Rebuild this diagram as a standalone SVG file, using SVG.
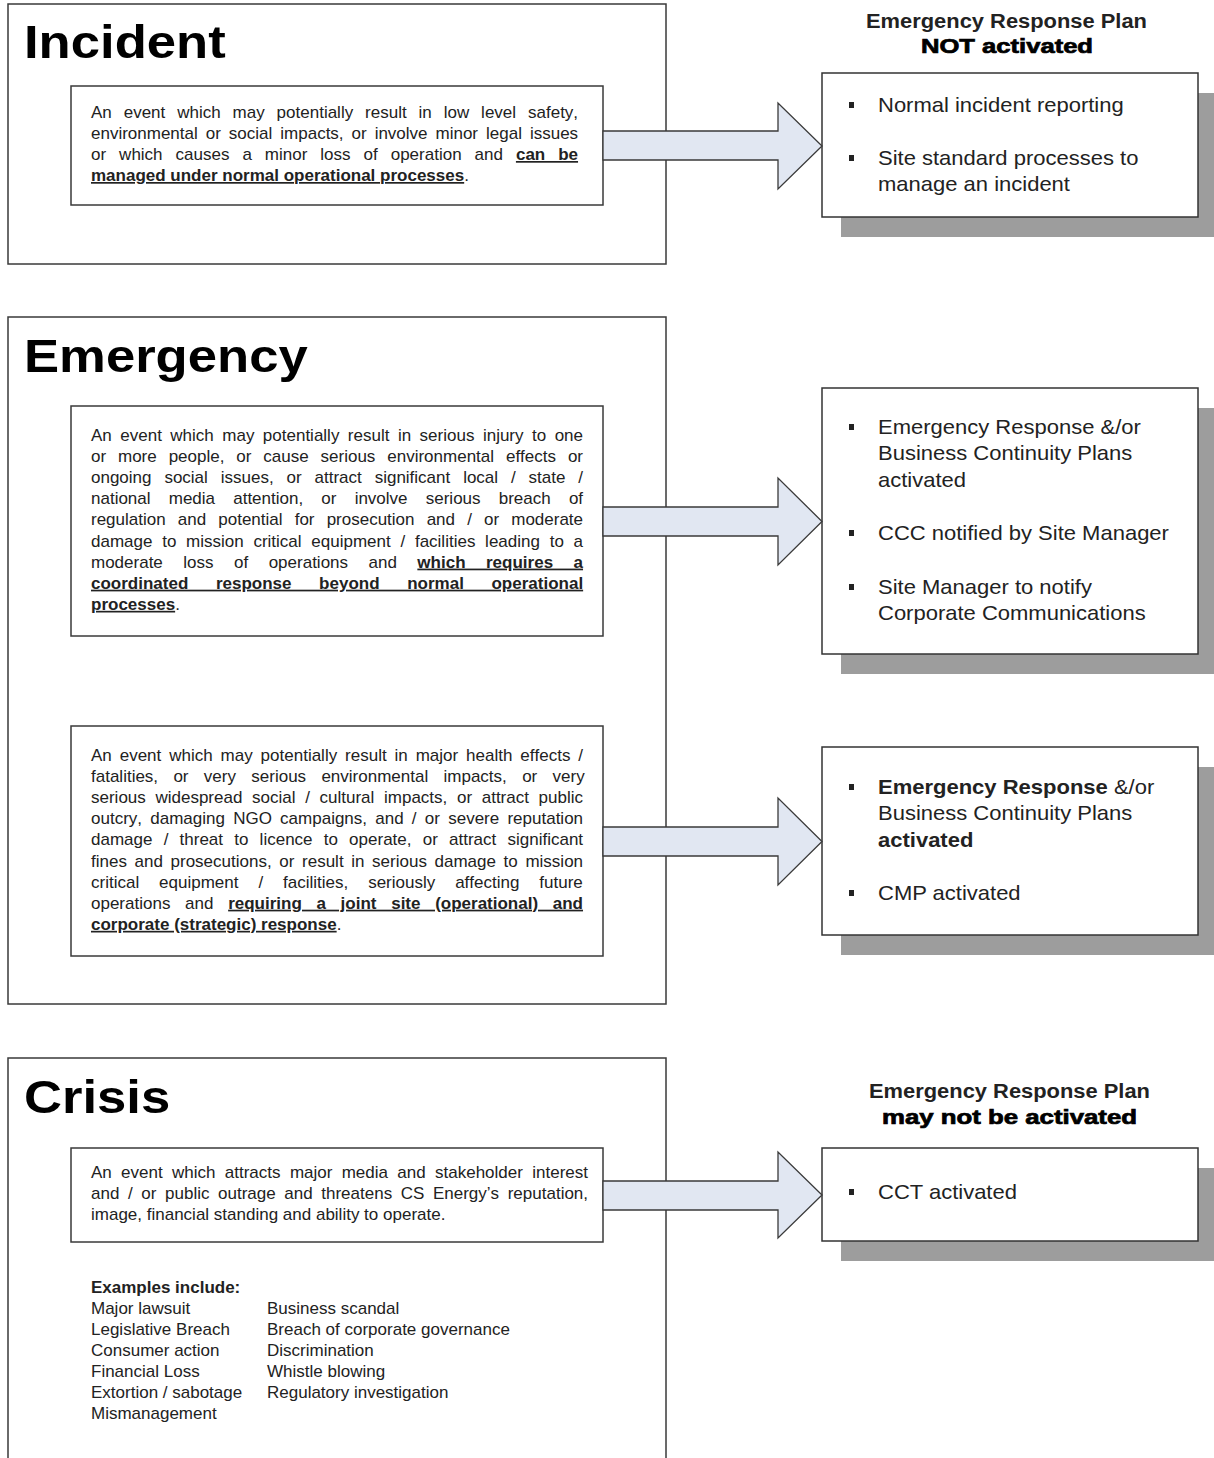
<svg xmlns="http://www.w3.org/2000/svg" width="1214" height="1458" viewBox="0 0 1214 1458">
<style>
.outer{fill:#fff;stroke:#3a3a3a;stroke-width:1.5}
.inner{fill:#fff;stroke:#3a3a3a;stroke-width:1.5}
.rbox{fill:#fff;stroke:#333;stroke-width:1.5}
.shadow{fill:#9d9d9d}
.title{font-family:"Liberation Sans",Arial,sans-serif;font-weight:bold;font-size:47px;fill:#000}
.body{font-family:"Liberation Sans",Arial,sans-serif;font-size:17px;fill:#222;font-kerning:none}
.b{font-weight:bold}
.bu{font-weight:bold;text-decoration:underline}
.rt{font-family:"Liberation Sans",Arial,sans-serif;font-size:20px;fill:#222}
.hd{font-family:"Liberation Sans",Arial,sans-serif;font-size:19.5px;font-weight:bold;fill:#222}
.hdx{font-family:"Liberation Sans",Arial,sans-serif;font-size:19.5px;font-weight:bold;fill:#000;stroke:#000;stroke-width:0.7}
.arrow{fill:#e1e7f2;stroke:#3a3a3a;stroke-width:1.3}
.bullet{fill:#222}
</style>

<g id="incident">
<rect class="outer" x="8" y="4" width="658" height="260"/>
<text class="title" transform="translate(24,58) scale(1.12,1)">Incident</text>
</g>
<g id="incident-desc">
<rect class="inner" x="71" y="86" width="532" height="119"/>
<text class="body" x="91" y="118" style="word-spacing:7.19px">An event which may potentially result in low level safety,</text>
<text class="body" x="91" y="139" style="word-spacing:3.25px">environmental or social impacts, or involve minor legal issues</text>
<text class="body" x="91" y="160" style="word-spacing:8.26px">or which causes a minor loss of operation and <tspan class="bu">can be</tspan></text>
<text class="body" x="91" y="181"><tspan class="bu">managed under normal operational processes</tspan>.</text>
</g>

<g id="emergency">
<rect class="outer" x="8" y="317" width="658" height="687"/>
<text class="title" transform="translate(24,372) scale(1.12,1)">Emergency</text>
</g>
<g id="emergency-desc-1">
<rect class="inner" x="71" y="406" width="532" height="230"/>
<text class="body" x="91" y="441" style="word-spacing:3.75px">An event which may potentially result in serious injury to one</text>
<text class="body" x="91" y="462.1" style="word-spacing:7.17px">or more people, or cause serious environmental effects or</text>
<text class="body" x="91" y="483.2" style="word-spacing:8.16px">ongoing social issues, or attract significant local / state /</text>
<text class="body" x="91" y="504.3" style="word-spacing:13.46px">national media attention, or involve serious breach of</text>
<text class="body" x="91" y="525.4" style="word-spacing:7.4px">regulation and potential for prosecution and / or moderate</text>
<text class="body" x="91" y="546.5" style="word-spacing:5.01px">damage to mission critical equipment / facilities leading to a</text>
<text class="body" x="91" y="567.6" style="word-spacing:15.75px">moderate loss of operations and <tspan class="bu">which requires a</tspan></text>
<text class="body" x="91" y="588.7" style="word-spacing:22.9px"><tspan class="bu">coordinated response beyond normal operational</tspan></text>
<text class="body" x="91" y="609.8"><tspan class="bu">processes</tspan>.</text>
</g>
<g id="emergency-desc-2">
<rect class="inner" x="71" y="726" width="532" height="230"/>
<text class="body" x="91" y="761" style="word-spacing:3.19px">An event which may potentially result in major health effects /</text>
<text class="body" x="91" y="782.1" style="word-spacing:10.6px">fatalities, or very serious environmental impacts, or very</text>
<text class="body" x="91" y="803.2" style="word-spacing:4.93px">serious widespread social / cultural impacts, or attract public</text>
<text class="body" x="91" y="824.3" style="word-spacing:3.51px">outcry, damaging NGO campaigns, and / or severe reputation</text>
<text class="body" x="91" y="845.4" style="word-spacing:6.48px">damage / threat to licence to operate, or attract significant</text>
<text class="body" x="91" y="866.5" style="word-spacing:2.91px">fines and prosecutions, or result in serious damage to mission</text>
<text class="body" x="91" y="887.6" style="word-spacing:15.2px">critical equipment / facilities, seriously affecting future</text>
<text class="body" x="91" y="908.7" style="word-spacing:9.96px">operations and <tspan class="bu">requiring a joint site (operational) and</tspan></text>
<text class="body" x="91" y="929.8"><tspan class="bu">corporate (strategic) response</tspan>.</text>
</g>

<g id="crisis">
<rect class="outer" x="8" y="1058" width="658" height="420"/>
<text class="title" transform="translate(24,1113) scale(1.12,1)">Crisis</text>
</g>
<g id="crisis-desc">
<rect class="inner" x="71" y="1148" width="532" height="94"/>
<text class="body" x="91" y="1177.5" style="word-spacing:4.6px">An event which attracts major media and stakeholder interest</text>
<text class="body" x="91" y="1198.6" style="word-spacing:3.88px">and / or public outrage and threatens CS Energy’s reputation,</text>
<text class="body" x="91" y="1219.7">image, financial standing and ability to operate.</text>
</g>
<g id="crisis-examples">
<text class="body b" x="91" y="1292.5">Examples include:</text>
<text class="body" x="91" y="1313.6">Major lawsuit</text>
<text class="body" x="91" y="1334.7">Legislative Breach</text>
<text class="body" x="91" y="1355.8">Consumer action</text>
<text class="body" x="91" y="1376.9">Financial Loss</text>
<text class="body" x="91" y="1398">Extortion / sabotage</text>
<text class="body" x="91" y="1419.1">Mismanagement</text>
<text class="body" x="267" y="1313.6">Business scandal</text>
<text class="body" x="267" y="1334.7">Breach of corporate governance</text>
<text class="body" x="267" y="1355.8">Discrimination</text>
<text class="body" x="267" y="1376.9">Whistle blowing</text>
<text class="body" x="267" y="1398">Regulatory investigation</text>
</g>

<g id="header-not-activated">
<text class="hd" x="866" y="28" textLength="281" lengthAdjust="spacingAndGlyphs">Emergency Response Plan</text>
<text class="hdx" x="921" y="53" textLength="172" lengthAdjust="spacingAndGlyphs">NOT activated</text>
</g>
<g id="response-incident">
<rect class="shadow" x="841" y="93" width="376" height="144"/>
<rect class="rbox" x="822" y="73" width="376" height="144"/>
<rect class="bullet" x="849" y="102" width="5" height="6"/>
<rect class="bullet" x="849" y="155" width="5" height="6"/>
<g transform="translate(878,0) scale(1.1,1)">
<text class="rt" x="0" y="112">Normal incident reporting</text>
<text class="rt" x="0" y="165">Site standard processes to</text>
<text class="rt" x="0" y="191">manage an incident</text>
</g>
</g>
<g id="response-emergency-1">
<rect class="shadow" x="841" y="408" width="376" height="266"/>
<rect class="rbox" x="822" y="388" width="376" height="266"/>
<rect class="bullet" x="849" y="424" width="5" height="6"/>
<rect class="bullet" x="849" y="530" width="5" height="6"/>
<rect class="bullet" x="849" y="584" width="5" height="6"/>
<g transform="translate(878,0) scale(1.1,1)">
<text class="rt" x="0" y="434">Emergency Response &amp;/or</text>
<text class="rt" x="0" y="460">Business Continuity Plans</text>
<text class="rt" x="0" y="487">activated</text>
<text class="rt" x="0" y="540">CCC notified by Site Manager</text>
<text class="rt" x="0" y="594">Site Manager to notify</text>
<text class="rt" x="0" y="620">Corporate Communications</text>
</g>
</g>
<g id="response-emergency-2">
<rect class="shadow" x="841" y="767" width="376" height="188"/>
<rect class="rbox" x="822" y="747" width="376" height="188"/>
<rect class="bullet" x="849" y="784" width="5" height="6"/>
<rect class="bullet" x="849" y="890" width="5" height="6"/>
<g transform="translate(878,0) scale(1.1,1)">
<text class="rt" x="0" y="794"><tspan class="b">Emergency Response</tspan> &amp;/or</text>
<text class="rt" x="0" y="820">Business Continuity Plans</text>
<text class="rt b" x="0" y="847">activated</text>
<text class="rt" x="0" y="900">CMP activated</text>
</g>
</g>
<g id="header-may-not">
<text class="hd" x="869" y="1098" textLength="281" lengthAdjust="spacingAndGlyphs">Emergency Response Plan</text>
<text class="hdx" x="882" y="1124" textLength="255" lengthAdjust="spacingAndGlyphs">may not be activated</text>
</g>
<g id="response-crisis">
<rect class="shadow" x="841" y="1168" width="376" height="93"/>
<rect class="rbox" x="822" y="1148" width="376" height="93"/>
<rect class="bullet" x="849" y="1189" width="5" height="6"/>
<g transform="translate(878,0) scale(1.1,1)">
<text class="rt" x="0" y="1199">CCT activated</text>
</g>
</g>

<g id="connectors">
<path class="arrow" d="M603,131 L778,131 L778,103 L822,146 L778,189 L778,160 L603,160 Z"/>
<path class="arrow" d="M603,507 L778,507 L778,478 L822,521.5 L778,565 L778,536 L603,536 Z"/>
<path class="arrow" d="M603,827 L778,827 L778,798 L822,841.5 L778,885 L778,856 L603,856 Z"/>
<path class="arrow" d="M603,1181 L778,1181 L778,1152 L822,1195 L778,1238 L778,1210 L603,1210 Z"/>
</g>
</svg>
